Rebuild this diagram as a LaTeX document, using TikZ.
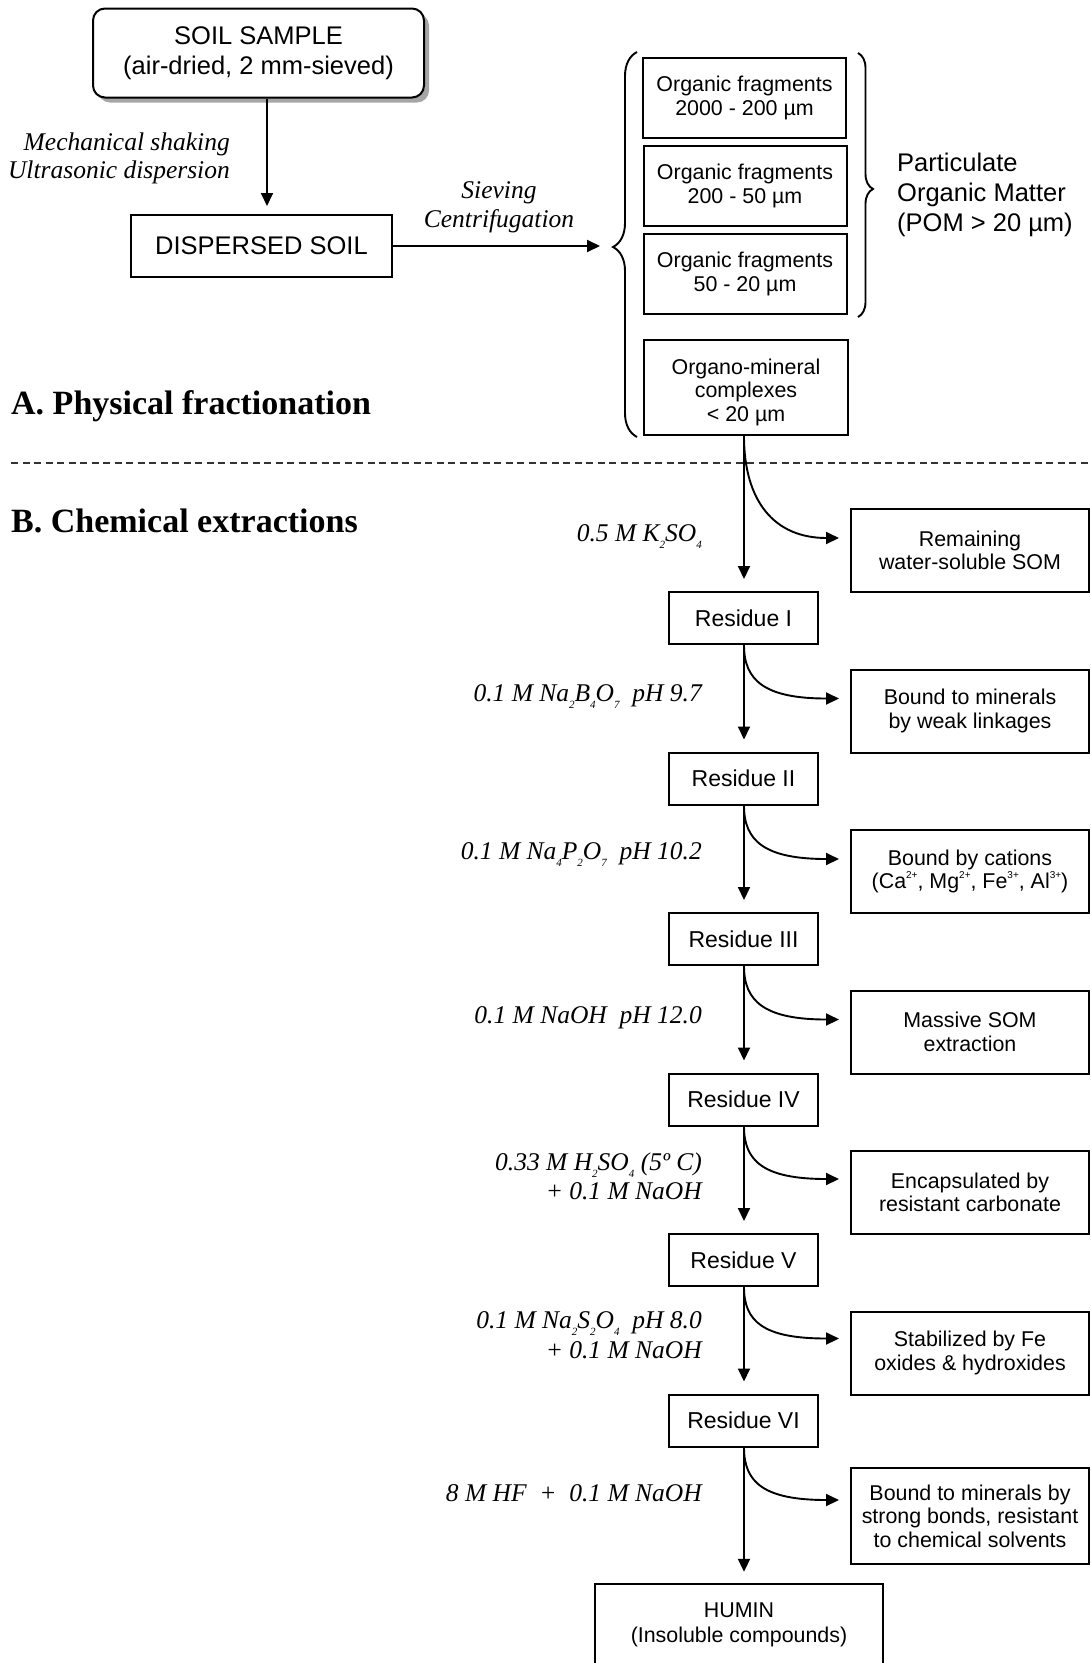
\documentclass[tikz,border=0pt]{standalone}
\usepackage{fontspec}
\setmainfont{Liberation Sans}
\newfontfamily\serifrm{Liberation Serif}
\usetikzlibrary{arrows.meta,decorations.pathreplacing,calc,shadows}
\newcommand\fbig{\fontsize{25.5}{29.7}\selectfont}
\newcommand\fsm{\fontsize{21.4}{23.6}\selectfont}
\newcommand\fres{\fontsize{23}{26}\selectfont}
\newcommand\flab{\serifrm\itshape\fontsize{25.5}{29}\selectfont}
\newcommand\ftitle{\serifrm\bfseries\fontsize{34}{40}\selectfont}
\newcommand\sbs[1]{\raisebox{-0.28em}{\fontsize{11}{11}\selectfont #1}}
\newcommand\sps[1]{\raisebox{0.5em}{\fontsize{10}{10}\selectfont #1}}
\begin{document}
\begin{tikzpicture}[x=1pt,y=1pt,
  box/.style={draw, line width=2pt, inner sep=0pt, align=center, fill=white},
  frag/.style={box, font=\fsm, minimum width=203pt, minimum height=80pt},
  resbox/.style={box, font=\fres, minimum width=149pt, minimum height=52pt},
  outbox/.style={box, font=\fsm, minimum width=238pt, minimum height=83pt},
  lab/.style={font=\flab, inner sep=0pt, anchor=base east},
  arr/.style={line width=1.9pt, -{Triangle[length=13pt,width=12pt]}},
  brc/.style={line width=1.9pt, decorate},
]
\fill[white] (0,0) rectangle (1090,-1663);
\useasboundingbox (0,0) rectangle (1090,-1663);

% ---------- A. physical fractionation ----------
\node[box, font=\fbig, rounded corners=12pt, minimum width=331pt, minimum height=89pt,
      drop shadow={shadow xshift=5pt, shadow yshift=-5pt, fill=black!35, opacity=1}]
      (soil) at (258.5,-53) {SOIL SAMPLE\\(air-dried, 2 mm-sieved)};
\node[box, font=\fbig, minimum width=261pt, minimum height=62pt] (disp) at (261.5,-246) {DISPERSED SOIL};

\node[font=\flab, inner sep=0pt, anchor=base east] (mech) at (230,-150) {Mechanical shaking};
\node[font=\flab, inner sep=0pt, anchor=base east] (ultra) at (230,-178) {Ultrasonic dispersion};
\node[font=\flab, inner sep=0pt, anchor=base] (siev) at (499,-198) {Sieving};
\node[font=\flab, inner sep=0pt, anchor=base] (centr) at (499,-227) {Centrifugation};

\coordinate (ax) at (267,0);
\coordinate (brtip) at (612,-247);
\draw[arr, shorten >=8pt] (soil.south -| ax) -- (disp.north -| ax);
\draw[arr, shorten >=12pt] (disp.east) -- (disp.east -| brtip);

\node[frag] (f1) at (744.5,-98) {Organic fragments\\2000 - 200 µm};
\node[frag] (f2) at (745,-186) {Organic fragments\\200 - 50 µm};
\node[frag] (f3) at (745,-274) {Organic fragments\\50 - 20 µm};
\node[box, font=\fsm, minimum width=204pt, minimum height=95pt] (om) at (746,-387.5)
      {\raisebox{-5.5pt}[\height][\depth]{\begin{tabular}{@{}c@{}}Organo-mineral\\complexes\\< 20 µm\end{tabular}}};

\draw[brc, decoration={brace, amplitude=24pt, aspect=0.4935}] (637,-437) -- (637,-52);
\draw[brc, decoration={brace, amplitude=15pt, aspect=0.515}] (858,-53) -- (858,-317);
\node[font=\fbig, align=left, anchor=west, inner sep=0pt] (pom) at (897,-195)
      {Particulate\\Organic Matter\\(POM > 20 µm)};

\node[font=\ftitle, anchor=base west, inner sep=0pt] (ta) at (11,-414) {A. Physical fractionation};
\draw[line width=1.3pt, black!80, dash pattern=on 7pt off 4.5pt] (11,-463) -- (1090,-463);
\node[font=\ftitle, anchor=base west, inner sep=0pt] (tb) at (11,-532) {B. Chemical extractions};

% ---------- B. chemical extractions ----------
\coordinate (mx) at (744,0);
\node[resbox] (res1) at (743.5,-618) {Residue I};
\node[resbox] (res2) at (743.5,-778.5) {Residue II};
\node[resbox] (res3) at (743.5,-939) {Residue III};
\node[resbox] (res4) at (743.5,-1099.5) {Residue IV};
\node[resbox] (res5) at (743.5,-1260) {Residue V};
\node[resbox] (res6) at (743.5,-1420.5) {Residue VI};

\node[outbox] (rb1) at (970,-550.5) {Remaining\\water-soluble SOM};
\node[outbox] (rb2) at (970,-711) {Bound to minerals\\by weak linkages};
\node[outbox] (rb3) at (970,-871.5) {Bound by cations\\(Ca\sps{2+}, Mg\sps{2+}, Fe\sps{3+}, Al\sps{3+})};
\node[outbox] (rb4) at (970,-1032) {Massive SOM\\extraction};
\node[outbox] (rb5) at (970,-1192.5) {Encapsulated by\\resistant carbonate};
\node[outbox] (rb6) at (970,-1353) {Stabilized by Fe\\oxides \& hydroxides};
\node[outbox, minimum height=96pt] (rb7) at (970,-1516) {Bound to minerals by\\strong bonds, resistant\\to chemical solvents};

\node[font=\fontsize{21.4}{25}\selectfont, align=center, inner sep=0pt, minimum width=288pt, minimum height=79pt]
      (humin) at (739,-1625) {HUMIN\\(Insoluble compounds)};
\draw[line width=2pt] ($(humin.south west)+(0,-12)$) -- ($(humin.north west)+(0,1.5)$) -- ($(humin.north east)+(0,1.5)$) -- ($(humin.south east)+(0,-12)$);

% main vertical arrows
\draw[arr, shorten >=12pt] (om.south -| mx) -- (res1.north -| mx);
\draw[arr, shorten >=12pt] (res1.south -| mx) -- (res2.north -| mx);
\draw[arr, shorten >=12pt] (res2.south -| mx) -- (res3.north -| mx);
\draw[arr, shorten >=12pt] (res3.south -| mx) -- (res4.north -| mx);
\draw[arr, shorten >=12pt] (res4.south -| mx) -- (res5.north -| mx);
\draw[arr, shorten >=12pt] (res5.south -| mx) -- (res6.north -| mx);
\draw[arr, shorten >=12pt] (res6.south -| mx) -- ($(humin.north -| mx)+(0,1.5)$);

% curved branch arrows
\draw[arr] (om.south -| mx) .. controls +(0,-65) and +(-65,0) .. ($(rb1.north west)+(-11,-30)$);
\draw[arr] (res1.south -| mx) .. controls +(0,-35) and +(-75,0) .. ($(rb2.north west)+(-11,-30)$);
\draw[arr] (res2.south -| mx) .. controls +(0,-35) and +(-75,0) .. ($(rb3.north west)+(-11,-30)$);
\draw[arr] (res3.south -| mx) .. controls +(0,-35) and +(-75,0) .. ($(rb4.north west)+(-11,-30)$);
\draw[arr] (res4.south -| mx) .. controls +(0,-35) and +(-75,0) .. ($(rb5.north west)+(-11,-29)$);
\draw[arr] (res5.south -| mx) .. controls +(0,-35) and +(-75,0) .. ($(rb6.north west)+(-11,-28)$);
\draw[arr] (res6.south -| mx) .. controls +(0,-35) and +(-75,0) .. ($(rb7.north west)+(-11,-33)$);

% reagent labels
\node[lab] (l1) at (702,-541) {0.5 M K\sbs{2}SO\sbs{4}};
\node[lab] (l2) at (702,-701) {0.1 M Na\sbs{2}B\sbs{4}O\sbs{7}\ \ pH 9.7};
\node[lab] (l3) at (702,-859) {0.1 M Na\sbs{4}P\sbs{2}O\sbs{7}\ \ pH 10.2};
\node[lab] (l4) at (702,-1023) {0.1 M NaOH\ \ pH 12.0};
\node[lab] (l5a) at (702,-1170) {0.33 M H\sbs{2}SO\sbs{4} (5º C)};
\node[lab] (l5b) at (702,-1199) {+ 0.1 M NaOH};
\node[lab] (l6a) at (702,-1328) {0.1 M Na\sbs{2}S\sbs{2}O\sbs{4}\ \ pH 8.0};
\node[lab] (l6b) at (702,-1358) {+ 0.1 M NaOH};
\node[lab] (l7) at (702,-1501) {8 M HF\ \ +\ \ 0.1 M NaOH};
\end{tikzpicture}
\end{document}
